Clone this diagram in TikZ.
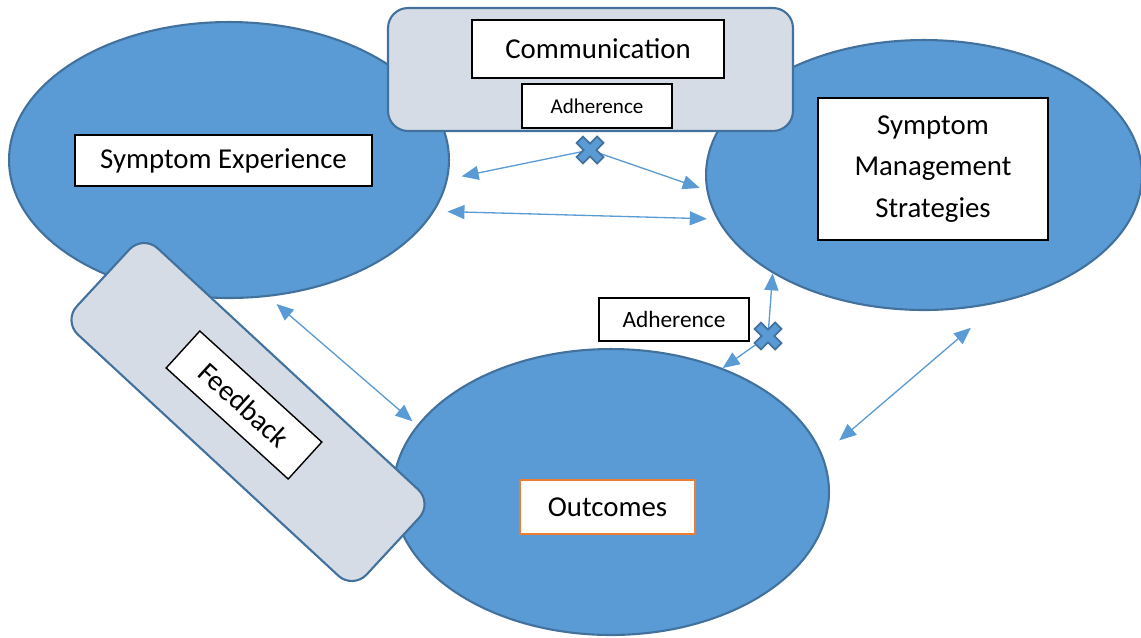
\documentclass[tikz,border=0pt]{standalone}
\usepackage{fontspec}
\setmainfont{Carlito}
\usepackage{tikz}
\usetikzlibrary{shapes.geometric,arrows.meta}
\definecolor{cfill}{RGB}{91,155,213}
\definecolor{cedge}{RGB}{65,113,156}
\definecolor{cbox}{RGB}{214,220,229}
\definecolor{corange}{RGB}{237,125,49}

\begin{document}
\begin{tikzpicture}[x=0.02cm,y=-0.02cm,
    >={Triangle[length=0.34cm,width=0.28cm]},
    blob/.style={ellipse, fill=cfill, draw=cedge, line width=1.2pt, inner sep=0pt},
    panel/.style={rectangle, rounded corners=0.4cm, fill=cbox, draw=cedge, line width=1.2pt, inner sep=0pt},
    txtbox/.style={rectangle, fill=white, draw=black, line width=0.8pt, inner sep=0pt, align=center, font=\fontsize{16.4}{23.5}\selectfont},
    link/.style={cfill, line width=0.75pt},
    xmark/.pic={\filldraw[fill=cfill, draw=cedge, line width=1pt, rotate=45]
      (4.5,4.5) -- (4.5,14.5) -- (-4.5,14.5) -- (-4.5,4.5) -- (-14.5,4.5) -- (-14.5,-4.5)
      -- (-4.5,-4.5) -- (-4.5,-14.5) -- (4.5,-14.5) -- (4.5,-4.5) -- (14.5,-4.5) -- (14.5,4.5) -- cycle;}]
  \useasboundingbox (0,0) rectangle (1141,637);

  % the three ellipses
  \node[blob, minimum width=8.8cm, minimum height=5.52cm] (exp) at (229,160) {};
  \node[blob, minimum width=8.72cm, minimum height=5.4cm] (mgmt) at (924,175) {};
  \node[blob, minimum width=8.72cm, minimum height=5.72cm] (out) at (611,492) {};

  % panels
  \node[panel, minimum width=8.1cm, minimum height=2.46cm] (comm) at (590.5,69.5) {};
  \node[panel, minimum width=7.9cm, minimum height=2.35cm, rotate=-42.8] (fb) at (248,412) {};

  % text boxes
  \node[txtbox, minimum width=5.04cm, minimum height=1.16cm] (commtxt) at (598,49) {Communication};
  \node[txtbox, minimum width=3cm, minimum height=0.88cm, font=\fontsize{12}{14}\selectfont] (adhtop) at (597,106) {Adherence};
  \node[txtbox, minimum width=5.94cm, minimum height=1.02cm] (exptxt) at (223.5,160.5) {Symptom Experience};
  \node[txtbox, minimum width=4.6cm, minimum height=2.84cm] (mgmttxt) at (933,169) {Symptom\\Management\\Strategies};
  \node[txtbox, draw=corange, minimum width=3.5cm, minimum height=1.08cm] (outtxt) at (607.5,507) {Outcomes};
  \node[txtbox, minimum width=3cm, minimum height=0.86cm, font=\fontsize{13.3}{15}\selectfont] (adhlow) at (674,319.5) {Adherence};
  \node[txtbox, minimum width=3.3cm, minimum height=1cm, rotate=-42.3, font=\fontsize{16.4}{19}\selectfont] (fbtxt) at (244,405) {Feedback};

  % links
  \coordinate (x1) at (590,150);
  \coordinate (x2) at (768,336);
  \draw[link, <->, shorten <=0.26cm, shorten >=0.2cm] (exp.-14.6) -- (mgmt.-168.5);
  \draw[link, <->, shorten <=0.22cm, shorten >=0.12cm] (exp.-74.5) -- (out.161.1);
  \draw[link, <->, shorten <=0.44cm, shorten >=0.78cm] (out.10.2) -- (mgmt.-59.2);
  \draw[link, ->, shorten >=0.28cm] (x1) -- (exp.-5.5);
  \draw[link, ->, shorten >=0.14cm] (x1) -- (mgmt.-176.8);
  \draw[link, ->] (x2) -- (mgmt.-147.5);
  \draw[link, ->] (x2) -- (out.48.5);

  % crosses
  \pic at (x1) {xmark};
  \pic at (x2) {xmark};
\end{tikzpicture}
\end{document}
